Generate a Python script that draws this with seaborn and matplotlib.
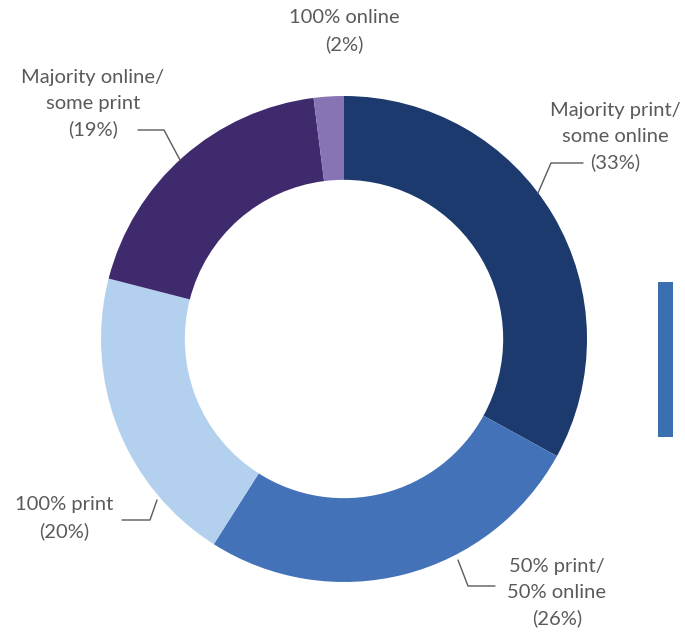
import matplotlib.pyplot as plt
import seaborn as sns

labels = ["Majority print/\nsome online\n(33%)", "50% print/\n50% online\n(26%)",
          "100% print\n(20%)", "Majority online/\nsome print\n(19%)", "100% online\n(2%)"]
shares = [33, 26, 20, 19, 2]
colors = ["#1C3A6E", "#4472B9", "#B3D1EE", "#3F2A6D", "#8674B5"]

sns.set_theme(style="white")
plt.rcParams['font.family'] = ['Lato', 'DejaVu Sans']

W, H = 685, 633
fig = plt.figure(figsize=(W / 100, H / 100), dpi=100)
ax = fig.add_axes([0, 0, 1, 1])

# pixel-like coordinates, y measured from the bottom
cx, cy, R = 344, H - 339, 243
ax.pie(shares, colors=colors, startangle=90, counterclock=False,
       center=(cx, cy), radius=R, wedgeprops=dict(width=R * 0.345, linewidth=0))
ax.set_xlim(0, W)
ax.set_ylim(0, H)
ax.set_aspect("equal")
ax.axis("off")

txt = dict(color="#5a5a5a", fontsize=14.5, ha="center", va="center", linespacing=1.6)
line = dict(color="#5a5a5a", linewidth=1)

# label positions (x, y from top) and leader lines
ax.text(615, H - 137, labels[0], **txt)
ax.plot([583, 551, 538], [H - 163, H - 163, H - 193], **line)

ax.text(557, H - 593, labels[1], **txt)
ax.plot([458, 468, 495], [H - 560, H - 586, H - 586], **line)

ax.text(64, H - 518, labels[2], **txt)
ax.plot([122, 150, 157], [H - 520, H - 520, H - 500], **line)

ax.text(93, H - 104, labels[3], **txt)
ax.plot([138, 164, 180], [H - 130, H - 130, H - 160], **line)

ax.text(344, H - 31, labels[4], **txt)

# stray blue bar on the right
ax.add_patch(plt.Rectangle((658, H - 437), 15, 155, color="#3A70B0", linewidth=0))

fig.savefig("out.png", dpi=100)
